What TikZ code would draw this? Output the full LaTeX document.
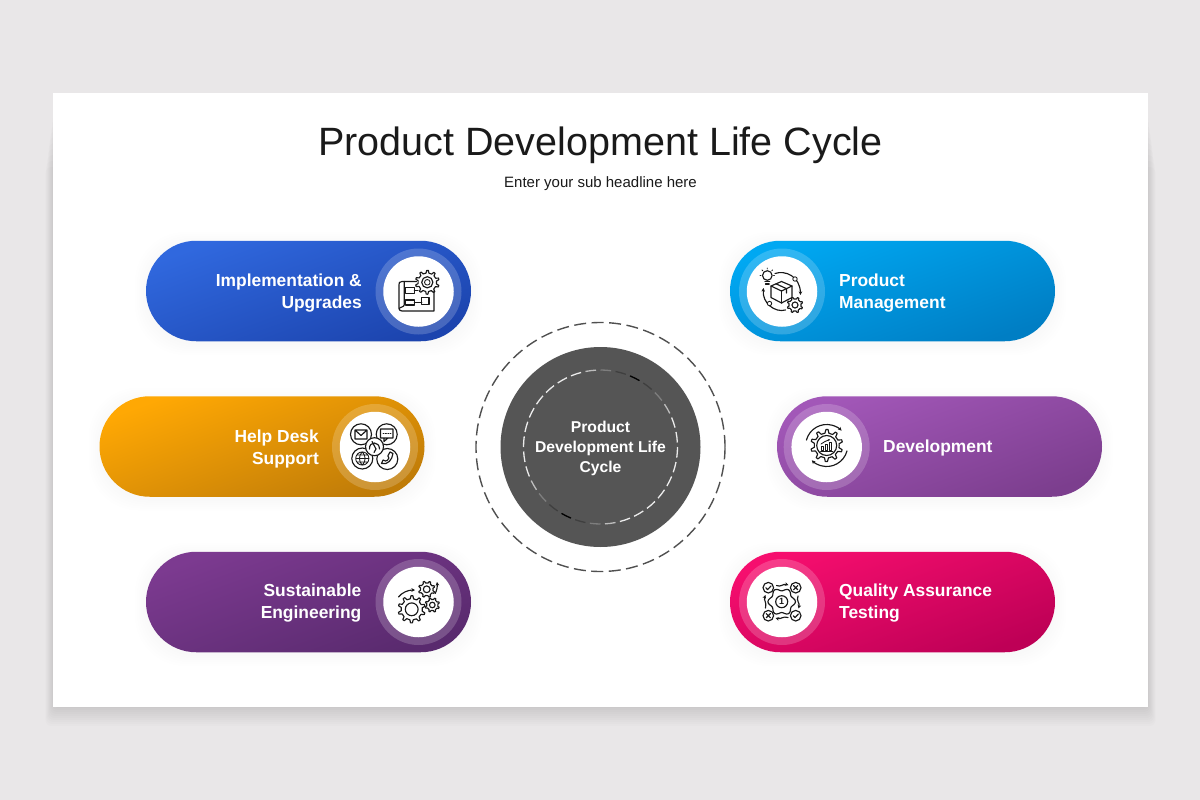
\documentclass[tikz,border=0pt]{standalone}
\usepackage{fontspec}
\setmainfont{Liberation Sans}
\usetikzlibrary{shapes.misc,arrows.meta}
\definecolor{pagebg}{HTML}{E9E7E8}
\definecolor{hubgray}{HTML}{555555}
\definecolor{ringgray}{HTML}{505050}
\definecolor{titleink}{HTML}{1A1A1A}
\definecolor{blueA}{HTML}{3068DE}\definecolor{blueB}{HTML}{1C44AE}
\definecolor{orngA}{HTML}{FFA804}\definecolor{orngB}{HTML}{C07C08}
\definecolor{viomA}{HTML}{7C3A90}\definecolor{viomB}{HTML}{592A6E}
\definecolor{cyanA}{HTML}{00A8F2}\definecolor{cyanB}{HTML}{007EC4}
\definecolor{purpA}{HTML}{A257B8}\definecolor{purpB}{HTML}{7C3E8E}
\definecolor{pinkA}{HTML}{F60E6E}\definecolor{pinkB}{HTML}{BE0056}
\tikzset{
  pill/.style={rounded rectangle,minimum width=325pt,minimum height=100.5pt,inner sep=0pt,draw=none},
  halo/.style={circle,minimum size=86pt,inner sep=0pt,fill=white,fill opacity=.19,draw=none},
  disc/.style={circle,minimum size=70.5pt,inner sep=0pt,fill=white,draw=none},
  lbl/.style={font=\fontsize{17.4}{22}\selectfont\bfseries,text=white,inner sep=0pt},
  icon/.style={draw=black!90,line width=1.15pt,line join=round,line cap=round,fill=none},
  iconthin/.style={draw=black!90,line width=.85pt,line join=round,line cap=round,fill=none},
  tipped/.style={-{Stealth[length=3.6pt,width=3.6pt]}},
}
% x, y, outer radius, teeth
\newcommand{\gearat}[4]{%
  \draw[icon,shift={(#1,#2)}] (0:#3*.78)
    \foreach \k in {1,...,#4}{
      -- ({(\k-.72)*360/#4}:#3*.78) -- ({(\k-.58)*360/#4}:#3) -- ({(\k-.36)*360/#4}:#3) -- ({(\k-.22)*360/#4}:#3*.78)
    } -- cycle;}
\newcommand{\pillshadow}[2]{%
  \foreach \g in {1,3,5,7,9,11}{
    \fill[black,opacity=.005,rounded corners=50pt] (#1-162.5-\g,#2-50+2-\g) rectangle (#1+162.5+\g,#2+50+3+\g);
  }}
\begin{document}
\begin{tikzpicture}[x=1pt,y=-1pt]
\useasboundingbox (0,0) rectangle (1200,800);
\fill[pagebg] (0,0) rectangle (1200,800);
% slide shadow
\foreach \g in {1,3,...,19}{
  \fill[black,opacity=.011,rounded corners=6pt] (53-\g*.4,110+\g*3) rectangle (1148+\g*.4,707+\g);
}
\node[fill=white,minimum width=1095pt,minimum height=614pt,inner sep=0pt,anchor=north west] (slide) at (53,93) {};
\node[font=\fontsize{39.5}{46}\selectfont,text=titleink,inner sep=0pt] (title) at (600.5,145) {Product Development Life Cycle};
\node[font=\fontsize{15}{18}\selectfont,text=titleink,inner sep=0pt] (subtitle) at (600.5,184) {Enter your sub headline here};

% pills
\pillshadow{308.5}{291}
\pillshadow{262}{446.5}
\pillshadow{308.5}{602}
\pillshadow{892.5}{291}
\pillshadow{939.5}{446.5}
\pillshadow{892.5}{602}
\node[pill,top color=blueA,bottom color=blueB,shading angle=20] (pillImpl) at (308.5,291) {};
\node[pill,top color=orngA,bottom color=orngB,shading angle=20] (pillHelp) at (262,446.5) {};
\node[pill,top color=viomA,bottom color=viomB,shading angle=20] (pillSust) at (308.5,602) {};
\node[pill,top color=cyanA,bottom color=cyanB,shading angle=20] (pillProd) at (892.5,291) {};
\node[pill,top color=purpA,bottom color=purpB,shading angle=20] (pillDev) at (939.5,446.5) {};
\node[pill,top color=pinkA,bottom color=pinkB,shading angle=20] (pillQual) at (892.5,602) {};
% halos and discs
\foreach \nm/\x/\y in {Impl/418.5/291.5,Help/375/447,Sust/418.5/602,Prod/782/291.5,Dev/826.7/447,Qual/782/602}{
  \node[halo] (halo\nm) at (\x,\y) {};
  \node[disc] (disc\nm) at (\x,\y) {};
}
% labels
\node[lbl,align=right,anchor=east] (lblImpl) at (362,293) {Implementation \&\\Upgrades};
\node[lbl,align=right,anchor=east] (lblHelp) at (319,448.5) {Help Desk\\Support};
\node[lbl,align=right,anchor=east] (lblSust) at (361.5,603.5) {Sustainable\\Engineering};
\node[lbl,align=left,anchor=west] (lblProd) at (839,293) {Product\\Management};
\node[lbl,align=left,anchor=west] (lblDev) at (883,448) {Development};
\node[lbl,align=left,anchor=west] (lblQual) at (839,603.5) {Quality Assurance\\Testing};

% centre
\node[circle,minimum size=249pt,inner sep=0pt,draw=ringgray,line width=1.4pt,dash pattern=on 12pt off 5.5pt] (outerring) at (600.5,447) {};
\node[circle,minimum size=200pt,inner sep=0pt,fill=hubgray] (hub) at (600.5,447) {};
\foreach \i in {0,...,31}{
  \pgfmathsetmacro\a{\i*11.25}
  \pgfmathsetmacro\dd{mod(\a+360-112.5,180)}
  \pgfmathsetmacro\dm{min(\dd,180-\dd)}
  \pgfmathsetmacro\p{min(92,\dm*2.2)}
  \draw[white!\p!black,line width=1.3pt,shift={(600.5,447)}] (\a:77) arc[start angle=\a,delta angle=7.9,radius=77];
}
\node[font=\fontsize{15.7}{20.3}\selectfont\bfseries,text=white,align=center,inner sep=0pt] (hubtext) at (600.5,448.5) {Product\\Development Life\\Cycle};

% ---------- icon: implementation
\gearat{427.3}{282.3}{11.9}{10}
\draw[icon] (427.3,282.3) circle[radius=5.6];
\draw[iconthin] (427.3,282.3) circle[radius=2.8];
\draw[icon] (416.5,281.5) -- (402,281.5) .. controls (399,281.5) and (399,283) .. (399,285) -- (399,308) .. controls (399,310) and (400,311) .. (402,311) -- (434,311) -- (434,291);
\draw[icon] (404.2,281.5) -- (404.2,305) .. controls (404.2,307) and (399.5,307) .. (399,309);
\draw[icon] (405.8,287.8) rectangle (414.3,293.3);
\draw[icon] (405.8,300) rectangle (414.3,305);
\draw[icon] (421.8,297.5) rectangle (429,304.5);
\draw[icon] (414.3,302.5) -- (421.8,302.5);
\draw[icon] (414.3,290.5) -- (418,290.5);

% ---------- icon: help desk
\draw[icon] (361,434.3) circle[radius=10.5];
\draw[icon] (386.7,434.3) circle[radius=10.5];
\draw[icon] (362.3,458.5) circle[radius=10.5];
\draw[icon] (387.3,459) circle[radius=10.5];
\fill[white] (374.5,446.7) circle[radius=9];
\draw[icon] (374.5,446.7) circle[radius=9];
\draw[icon] (355,430) rectangle (367,439) (355,430) -- (361,435.5) -- (367,430);
\draw[icon] (380.5,429) rectangle (393,438) (384,438) -- (384,441.5) -- (388,438);
\draw[iconthin,dash pattern=on 1pt off 1.4pt] (383,433.5) -- (391,433.5);
\draw[iconthin] (362.3,458.5) circle[radius=6.6] (362.3,451.9) .. controls (358.5,455) and (358.5,462) .. (362.3,465.1) (362.3,451.9) .. controls (366,455) and (366,462) .. (362.3,465.1) (355.7,458.5) -- (368.9,458.5) (356.8,455) -- (367.8,455) (356.8,462) -- (367.8,462);
\draw[icon] (381.5,463.5) .. controls (388,465) and (392,460) .. (393,453.5) -- (390,452) -- (387.8,456) -- (389,458) .. controls (388,460) and (387,461) .. (385.5,461) -- (383,460) -- cycle;
\draw[icon] (369.5,449) .. controls (369,441) and (379.5,441) .. (379.5,449);
\draw[icon] (372,441.5) -- (376,449) -- (374,452.5);

% ---------- icon: sustainable
\gearat{411.7}{609.3}{13.6}{10}
\draw[icon] (411.7,609.3) circle[radius=6.4];
\gearat{426.7}{589.3}{8.2}{8}
\draw[icon] (426.7,589.3) circle[radius=3.4];
\gearat{432.3}{605}{7.2}{8}
\draw[icon] (432.3,605) circle[radius=2.8];
\draw[icon,tipped] (398.5,597) .. controls (402,592.5) and (408,590) .. (415,590);
\draw[icon,tipped] (435.2,593.5) .. controls (437,590) and (437.5,586) .. (437,582);

% ---------- icon: product management
\draw[icon] (781.5,281.5) -- (792,286) -- (781.5,291) -- (771,286) -- cycle;
\draw[icon] (771,286) -- (771,297.5) -- (781.5,303) -- (792,297.5) -- (792,286);
\draw[icon] (781.5,291) -- (781.5,303);
\draw[icon] (776,283.8) -- (786.5,288.7) -- (786.5,293);
\draw[icon] (767.3,275.5) circle[radius=4.8];
\draw[icon] (765,281.5) -- (769.7,281.5) (765.5,284) -- (769.2,284);
\draw[iconthin] (760,275.5) -- (761,275.5) (774.5,275.5) -- (773.5,275.5) (767.3,268) -- (767.3,269) (762,270) -- (762.8,270.8) (772.5,270) -- (771.8,270.8);
\gearat{795}{305}{7.8}{8}
\draw[icon] (795,305) circle[radius=3];
\draw[icon,tipped] (775,273.5) .. controls (785,270) and (800,276) .. (800.5,295);
\draw[icon,tipped] (785.5,310) .. controls (775,313) and (762,303) .. (763.5,288);
\fill[white] (795,279) circle[radius=2.2]; \draw[iconthin] (795,279) circle[radius=2.2];
\fill[white] (769.5,303.5) circle[radius=2.2]; \draw[iconthin] (769.5,303.5) circle[radius=2.2];

% ---------- icon: development
\gearat{826.7}{445.5}{16}{10}
\draw[icon] (826.7,445.5) circle[radius=10];
\draw[icon,tipped,shift={(826.7,445.5)}] (-165:21) arc[start angle=-165,end angle=-45,radius=21];
\draw[icon,tipped,shift={(826.7,445.5)}] (15:21) arc[start angle=15,end angle=135,radius=21];
\draw[iconthin] (820.5,451) -- (833,451);
\draw[iconthin] (821,450.5) rectangle (823.5,446.5);
\draw[iconthin] (825,450.5) rectangle (827.5,444.5);
\draw[iconthin] (829,450.5) rectangle (831.5,442.5);
\draw[iconthin,-{Stealth[length=2.2pt,width=2.2pt]}] (821,444) -- (825,441.5) -- (830,439.5);

% ---------- icon: quality
\draw[icon] (781.7,601.7) circle[radius=6];
\node[font=\fontsize{9}{9}\selectfont\bfseries,text=black!90,inner sep=0pt] (iconone) at (781.7,601.7) {1};
\draw[icon,shift={(781.7,601.7)}] plot[smooth cycle,samples=48,domain=0:352] (\x:{12.3+1.5*cos(6*\x)});
\draw[icon] (768.3,587.7) circle[radius=5.3] (765.8,587.7) -- (767.6,589.6) -- (771,586);
\draw[icon] (795.7,587.7) circle[radius=5.3] (793.6,585.6) -- (797.8,589.8) (797.8,585.6) -- (793.6,589.8);
\draw[icon] (768.3,615.7) circle[radius=5.3] (766.2,613.6) -- (770.4,617.8) (770.4,613.6) -- (766.2,617.8);
\draw[icon] (795.7,615.7) circle[radius=5.3] (793.2,615.7) -- (795,617.6) -- (798.4,614);
\draw[icon,tipped] (776.5,585.5) .. controls (781,587.5) and (783,583.5) .. (788.5,585);
\draw[icon,tipped] (798,596) .. controls (796,601) and (800,603) .. (798.5,608.5);
\draw[icon,tipped] (788,617.5) .. controls (783,615.8) and (781,619.5) .. (775.5,618);
\draw[icon,tipped] (765.5,608) .. controls (767,602) and (763.5,600.5) .. (765.5,595);
\end{tikzpicture}
\end{document}
